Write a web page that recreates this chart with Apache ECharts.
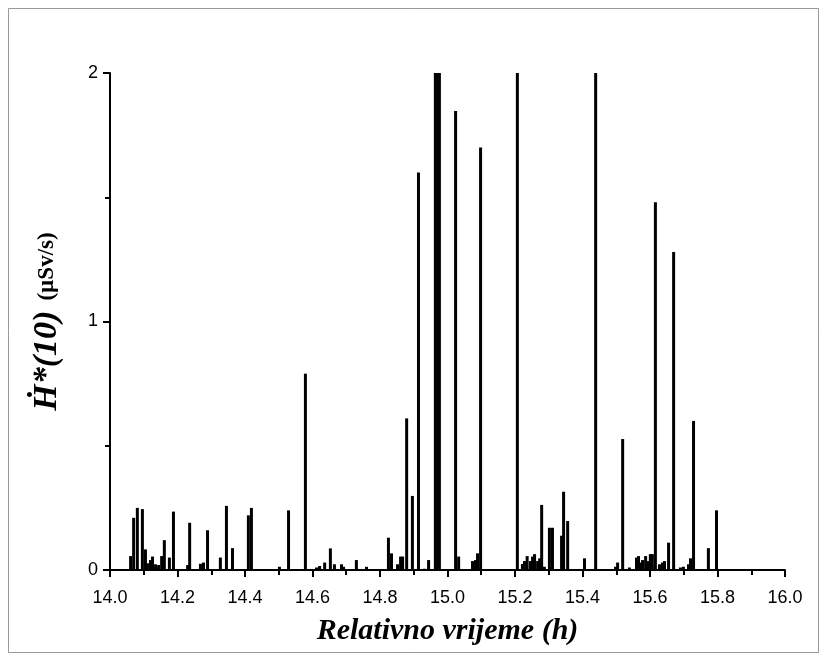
<!DOCTYPE html>
<html>
<head>
<meta charset="utf-8">
<script src="https://cdn.jsdelivr.net/npm/echarts@6/dist/echarts.min.js"></script>
<style>html,body{margin:0;padding:0;background:#fff}#c{width:827px;height:662px}</style>
</head>
<body>
<div id="c"></div>
<script>
const times = [14.061,14.070,14.081,14.096,14.105,14.111,14.120,14.126,14.135,14.144,14.153,14.161,14.176,14.188,14.230,14.236,14.268,14.277,14.289,14.327,14.345,14.363,14.410,14.419,14.502,14.529,14.579,14.612,14.621,14.636,14.653,14.665,14.686,14.692,14.730,14.760,14.825,14.834,14.852,14.861,14.867,14.879,14.896,14.914,14.932,14.944,14.964,14.970,14.976,15.024,15.033,15.074,15.083,15.089,15.098,15.207,15.222,15.228,15.236,15.246,15.252,15.258,15.267,15.273,15.279,15.287,15.302,15.311,15.338,15.344,15.356,15.406,15.439,15.498,15.504,15.519,15.539,15.560,15.566,15.572,15.578,15.587,15.593,15.601,15.607,15.616,15.628,15.637,15.643,15.655,15.670,15.690,15.699,15.714,15.720,15.729,15.773,15.797];
const doseRate = [0.056,0.21,0.25,0.245,0.083,0.027,0.04,0.054,0.023,0.02,0.056,0.12,0.05,0.235,0.02,0.19,0.025,0.03,0.16,0.05,0.258,0.088,0.22,0.25,0.013,0.24,0.79,0.01,0.016,0.03,0.087,0.023,0.023,0.013,0.04,0.013,0.13,0.067,0.023,0.054,0.054,0.61,0.298,1.60,0.005,0.04,2,2,2,1.847,0.054,0.036,0.04,0.067,1.70,2,0.024,0.036,0.056,0.036,0.054,0.064,0.036,0.047,0.262,0.013,0.17,0.17,0.138,0.315,0.197,0.047,2,0.013,0.03,0.527,0.01,0.05,0.056,0.03,0.04,0.056,0.036,0.064,0.064,1.48,0.023,0.03,0.036,0.11,1.28,0.01,0.013,0.023,0.047,0.60,0.088,0.24];
const xTicks = {min: 14.0, max: 16.0, step: 0.2};
const yTicks = {min: 0, max: 2, step: 1};
const xTitle = 'Relativno vrijeme (h)';

const chart = echarts.init(document.getElementById('c'), null, {renderer: 'canvas'});
const data = times.map((t, i) => [t, doseRate[i]]);
chart.setOption({
  animation: false,
  backgroundColor: '#fff',
  grid: {left: 110, right: 42, top: 73, bottom: 92, containLabel: false},
  xAxis: {
    type: 'value', min: xTicks.min, max: xTicks.max, interval: xTicks.step,
    name: xTitle, nameLocation: 'middle', nameGap: 46,
    nameTextStyle: {fontFamily: 'Liberation Serif', fontStyle: 'italic', fontWeight: 'bold', fontSize: 30, color: '#000'},
    axisLine: {show: true, lineStyle: {color: '#000', width: 2}},
    axisTick: {show: true, length: 7, lineStyle: {color: '#000', width: 2}},
    minorTick: {show: true, splitNumber: 2, length: 5, lineStyle: {color: '#000', width: 2}},
    splitLine: {show: false},
    axisLabel: {color: '#000', fontFamily: 'Liberation Sans', fontSize: 18, margin: 19,
      formatter: v => v.toFixed(1)}
  },
  yAxis: {
    type: 'value', min: yTicks.min, max: yTicks.max, interval: yTicks.step,
    name: '{h|Ḣ*(10)}   {u|(µSv/s)}', nameLocation: 'middle', nameGap: 46, nameRotate: 90,
    nameTextStyle: {rich: {
      h: {fontFamily: 'Liberation Serif', fontStyle: 'italic', fontWeight: 'bold', fontSize: 34, color: '#000'},
      u: {fontFamily: 'Liberation Serif', fontWeight: 'bold', fontSize: 23, color: '#000'}
    }},
    axisLine: {show: true, lineStyle: {color: '#000', width: 2}},
    axisTick: {show: true, length: 7, lineStyle: {color: '#000', width: 2}},
    minorTick: {show: true, splitNumber: 2, length: 5, lineStyle: {color: '#000', width: 2}},
    splitLine: {show: false},
    axisLabel: {color: '#000', fontFamily: 'Liberation Sans', fontSize: 18, margin: 12}
  },
  series: [{
    type: 'bar', data: data, barWidth: 3, clip: true,
    itemStyle: {color: '#000'}
  }],
  graphic: [{
    type: 'rect', shape: {x: 8.5, y: 8.5, width: 810, height: 644},
    style: {fill: 'none', stroke: '#999', lineWidth: 1}, silent: true
  }]
});
</script>
</body>
</html>
